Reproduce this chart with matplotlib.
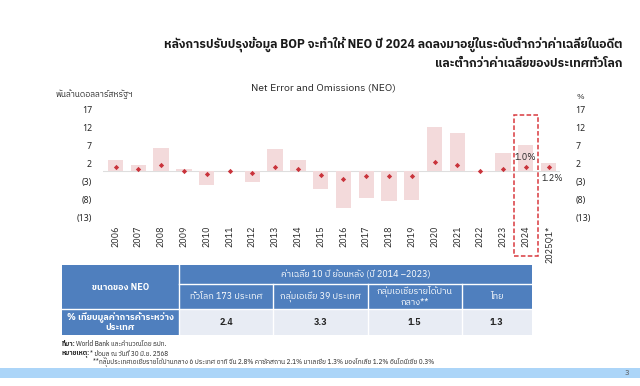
import matplotlib
matplotlib.use("Agg")
import matplotlib.pyplot as plt
from matplotlib import font_manager, ft2font
from matplotlib.patches import Rectangle

# look for a font that actually has Thai glyphs
thai_fonts = []
for f in font_manager.fontManager.ttflist:
    try:
        cmap = ft2font.FT2Font(f.fname).get_charmap()
    except Exception:
        continue
    if 0x0E01 in cmap and f.name not in thai_fonts:
        thai_fonts.append(f.name)
thai_fonts.sort(key=lambda n: (0 if "Thai" in n else 1, n))
FAMILY = thai_fonts[:1] + ["Noto Sans", "DejaVu Sans"]
plt.rcParams["font.family"] = FAMILY

# data
years = ["2006", "2007", "2008", "2009", "2010", "2011", "2012", "2013", "2014", "2015",
         "2016", "2017", "2018", "2019", "2020", "2021", "2022", "2023", "2024", "2025Q1*"]
neo_usd = [3.0, 1.7, 6.5, 0.5, -4.0, 0.1, -3.0, 6.0, 3.0, -5.1,
           -10.4, -7.4, -8.4, -8.2, 12.4, 10.6, -0.4, 4.9, 7.3, 2.3]
neo_pct = [1.0, 0.5, 1.6, 0.1, -0.9, -0.1, -0.6, 1.0, 0.6, -1.0,
           -2.1, -1.3, -1.4, -1.4, 2.5, 1.8, -0.1, 0.7, 1.0, 1.2]
yticks = [17, 12, 7, 2, -3, -8, -13]
ytick_labels = ["17", "12", "7", "2", "(3)", "(8)", "(13)"]

title = ("หลังการปรับปรุงข้อมูล BOP จะทำให้ NEO ปี 2024 ลดลงมาอยู่ในระดับต่ำกว่าค่าเฉลี่ยในอดีต\n"
         "และต่ำกว่าค่าเฉลี่ยของประเทศทั่วโลก")
col_heads = ["ทั่วโลก 173 ประเทศ", "กลุ่มเอเชีย 39 ประเทศ", "กลุ่มเอเชียรายได้ปาน\nกลาง**", "ไทย"]
avg_values = ["2.4", "3.3", "1.5", "1.3"]

BAR = "#f3dadb"
RED = "#c9333b"
TXT = "#262626"
BLUE = "#4f7fbe"
CELL = "#e8ecf4"

fig = plt.figure(figsize=(6.4, 3.86), dpi=100)

# main chart
ax = fig.add_axes([103 / 640, 1 - 221.3 / 386, 457 / 640, 114.9 / 386])
x = list(range(len(years)))
ax.bar(x, neo_usd, width=0.67, color=BAR, zorder=1)
ax.axhline(0, color="#dedede", lw=0.8, zorder=0)
ax.plot(x, neo_pct, ls="none", marker="D", ms=2.7, mew=0, color=RED, zorder=3)
ax.set_xlim(-0.55, 19.5)
ax.set_ylim(-14, 18)
for s in ax.spines.values():
    s.set_visible(False)
ax.set_yticks(yticks)
ax.set_yticklabels(ytick_labels, fontsize=6.3, fontweight="bold", color=TXT,
                   family=["Noto Sans", "DejaVu Sans"])
ax.tick_params(axis="y", length=0, pad=8)
ax.set_xticks(x)
ax.set_xticklabels(years, rotation=90, fontsize=6.5, color=TXT)
ax.tick_params(axis="x", length=0, pad=3)

ax2 = ax.twinx()
ax2.set_ylim(ax.get_ylim())
ax2.set_yticks(yticks)
ax2.set_yticklabels(ytick_labels, fontsize=6.3, fontweight="bold", color=TXT,
                    family=["Noto Sans", "DejaVu Sans"])
ax2.tick_params(axis="y", length=0, pad=11)
for s in ax2.spines.values():
    s.set_visible(False)

# highlight 2024
ax.add_patch(Rectangle((18 - 0.52, -23.6), 1.04, 39.1, fill=False, ec="#d9393f",
                       lw=1.1, ls=(0, (3, 1.5)), clip_on=False, zorder=4))
ax.text(18, neo_pct[18] + 2.9, "1.0%", ha="center", va="center", fontsize=6.5, color=TXT)
ax.text(19.15, neo_pct[19] - 3.3, "1.2%", ha="center", va="center", fontsize=6.5, color=TXT)

# overlay in pixel coordinates for titles, table and notes
ov = fig.add_axes([0, 0, 1, 1], zorder=-1)
ov.set_xlim(0, 640)
ov.set_ylim(386, 0)
ov.axis("off")

ov.text(622, 53.5, title, ha="right", va="center", fontsize=8.7, fontweight="bold",
        color="#1a1a1a", linespacing=1.45)
ov.text(323, 88, "Net Error and Omissions (NEO)", ha="center", va="center",
        fontsize=7.5, color=TXT)
ov.text(55, 94, "พันล้านดอลลาร์สหรัฐฯ", ha="left", va="center", fontsize=6, color=TXT)
ov.text(580, 97, "%", ha="center", va="center", fontsize=6, color=TXT)

# table
cols = [61.7, 179, 273.3, 367.7, 461.7, 531.7]
rows = [265, 284, 309.3, 335]
tab = ov
tab.add_patch(Rectangle((cols[0], rows[0]), cols[-1] - cols[0], rows[2] - rows[0], fc=BLUE, ec="none"))
tab.add_patch(Rectangle((cols[0], rows[2]), cols[1] - cols[0], rows[3] - rows[2], fc=BLUE, ec="none"))
tab.add_patch(Rectangle((cols[1], rows[2]), cols[-1] - cols[1], rows[3] - rows[2], fc=CELL, ec="none"))
tab.plot([cols[1], cols[1]], [rows[0], rows[3]], color="white", lw=1)
for c in cols[2:-1]:
    tab.plot([c, c], [rows[1], rows[3]], color="white", lw=1)
tab.plot([cols[1], cols[-1]], [rows[1], rows[1]], color="white", lw=1)
tab.plot([cols[0], cols[-1]], [rows[2], rows[2]], color="white", lw=1)

tab.text((cols[0] + cols[1]) / 2, (rows[0] + rows[2]) / 2, "ขนาดของ NEO", ha="center",
         va="center", fontsize=6.5, color="white", fontweight="bold")
tab.text((cols[1] + cols[-1]) / 2, (rows[0] + rows[1]) / 2, "ค่าเฉลี่ย 10 ปี ย้อนหลัง (ปี 2014 –2023)",
         ha="center", va="center", fontsize=6.5, color="white")
for i, h in enumerate(col_heads):
    tab.text((cols[i + 1] + cols[i + 2]) / 2, (rows[1] + rows[2]) / 2, h, ha="center",
             va="center", fontsize=6.5, color="white", linespacing=1.1)
tab.text((cols[0] + cols[1]) / 2, (rows[2] + rows[3]) / 2, "% เทียบมูลค่าการค้าระหว่าง\nประเทศ",
         ha="center", va="center", fontsize=6.5, color="white", fontweight="bold", linespacing=1.1)
for i, v in enumerate(avg_values):
    tab.text((cols[i + 1] + cols[i + 2]) / 2, (rows[2] + rows[3]) / 2, v, ha="center",
             va="center", fontsize=6.5, color=TXT, fontweight="bold")

# notes
ov.text(62, 344, "ที่มา:", ha="left", va="center", fontsize=4.7, color=TXT, fontweight="bold")
ov.text(76, 344, "World Bank และคำนวณโดย ธปท.", ha="left", va="center", fontsize=4.7, color=TXT)
ov.text(62, 353.3, "หมายเหตุ:", ha="left", va="center", fontsize=4.7, color=TXT, fontweight="bold")
ov.text(90, 353.3, "* ข้อมูล ณ วันที่ 30 มิ.ย. 2568", ha="left", va="center", fontsize=4.7, color=TXT)
ov.text(93, 362, "**กลุ่มประเทศเอเชียรายได้ปานกลาง 6 ประเทศ อาทิ จีน 2.8% คาซัคสถาน 2.1% "
        "มาเลเซีย 1.3% มองโกเลีย 1.2% อินโดนีเซีย 0.3%", ha="left", va="center", fontsize=4.7, color=TXT)

# footer band
ov.add_patch(Rectangle((0, 367.7), 640, 10.6, fc="#acd5f8", ec="none"))
ov.text(627, 373, "3", ha="center", va="center", fontsize=5.5, color="#555555")

fig.savefig("out.png", dpi=100)
